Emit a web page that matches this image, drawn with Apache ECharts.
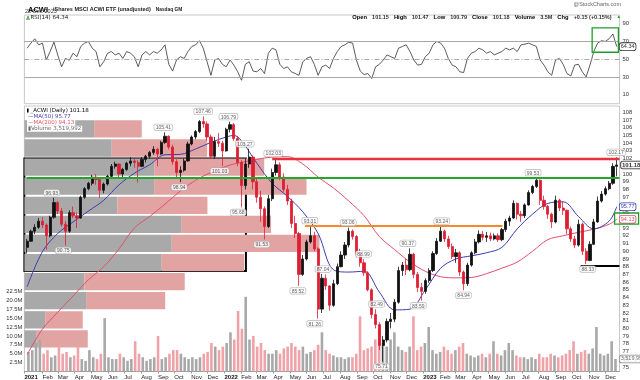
<!DOCTYPE html>
<html><head><meta charset="utf-8">
<script src="https://cdn.jsdelivr.net/npm/echarts@6/dist/echarts.min.js"></script>
<style>html,body{margin:0;padding:0;background:#fff}#c{width:640px;height:380px}</style>
</head><body><div id="c"></div>
<script>
// ---------- data (weekly summary) ----------
const opens = [90.5,91.3,92.6,93.1,93.9,93.4,92.0,94.4,96.3,95.2, 93.5,92.6,95.0,94.6,94.3,97.0,98.1,98.8,99.6,99.3,
 97.9,98.7,99.7,101.0,101.3,100.0,100.6,101.4,101.7,101.5, 101.0,101.9,102.3,102.8,103.2,102.6,104.1,104.9,103.5,101.6,
 100.2,100.5,101.7,103.9,104.8,105.5,106.8,106.5,104.8,102.3, 104.2,104.0,103.0,105.8,106.4,104.6,101.5,98.5,101.3,102.2,
 99.0,97.0,95.5,93.2,96.8,100.2,101.2,99.6,98.0,96.5, 93.6,92.3,87.0,89.0,91.2,92.0,90.3,82.5,86.5,85.5,
 83.0,85.8,88.0,89.5,90.8,92.6,91.9,89.6,88.5,87.2, 85.0,81.8,80.5,77.8,78.5,80.9,81.2,83.4,87.5,88.2,
 87.6,89.6,87.0,85.3,84.8,86.2,87.5,89.7,91.3,92.6, 91.6,90.6,89.3,89.8,87.3,85.8,88.2,89.8,91.2,92.2,
 91.8,92.0,91.6,92.0,91.5,92.8,93.9,94.3,96.2,94.8, 94.6,96.0,97.6,98.4,99.2,96.6,95.8,94.8,93.8,96.6,
 95.6,95.3,92.9,91.6,90.8,93.5,90.0,88.8,90.9,93.8, 96.5,97.4,98.1,98.8,101.0];
const highs = [91.6,92.8,93.5,94.3,94.4,93.6,94.6,96.93,96.5,95.6, 93.9,95.3,95.8,95.0,97.2,98.3,99.0,99.9,100.0,99.6,
 98.9,99.9,101.3,101.6,101.4,100.8,101.6,102.2,102.1,101.8, 102.2,102.5,103.0,103.6,103.4,104.3,105.41,105.0,103.8,101.9,
 101.0,102.0,104.2,105.0,105.7,107.0,107.46,106.8,105.1,104.8, 105.3,104.3,106.0,106.79,106.6,104.9,101.8,102.0,103.27,102.4,
 99.6,97.8,95.8,97.3,100.7,102.03,101.5,100.1,98.6,96.8, 94.6,92.5,89.5,91.5,93.31,92.5,90.5,87.04,87.0,85.6,
 86.3,88.4,90.0,91.2,93.06,92.8,92.1,90.3,88.99,87.4, 85.2,82.49,80.8,79.0,81.3,82.0,83.8,88.0,88.6,89.0,
 90.37,89.8,87.3,85.9,86.5,87.8,90.0,91.7,93.24,92.8, 92.0,91.0,90.3,90.0,87.5,88.5,90.0,91.6,92.7,92.6,
 92.5,92.4,92.3,92.3,93.0,94.2,94.6,96.6,96.3,95.2, 96.2,97.9,98.6,99.53,99.3,97.2,96.0,95.0,97.2,96.8,
 96.4,95.4,93.2,92.0,94.1,93.7,90.4,91.3,94.2,97.1, 97.8,98.4,99.1,101.4,102.17];
const lows = [89.7,91.2,92.2,92.9,93.0,90.2,91.8,94.2,94.8,93.2, 90.75,92.4,94.3,93.0,94.2,96.8,97.9,98.5,98.6,96.9,
 97.5,98.5,99.6,100.7,99.6,99.4,100.4,101.0,100.8,98.9, 100.9,101.5,102.0,102.5,101.0,102.5,103.9,103.2,101.2,99.5,
 98.94,100.3,101.6,103.7,104.5,105.3,106.0,104.3,102.0,102.0, 103.5,101.03,102.9,105.4,104.3,101.0,95.68,98.0,100.8,98.0,
 96.3,93.8,91.53,93.0,96.5,99.8,99.2,97.7,96.0,93.0, 91.7,85.52,86.8,88.8,91.0,90.0,81.26,82.0,85.0,82.3,
 82.8,85.6,87.9,89.0,90.5,91.5,89.2,88.0,86.8,84.8, 81.3,80.0,77.2,75.71,78.2,80.0,80.8,83.2,86.8,86.9,
 87.4,86.5,84.7,83.59,84.5,85.9,87.3,89.5,91.2,91.2, 90.3,89.0,88.5,86.8,84.94,85.5,88.0,89.6,91.0,91.4,
 91.2,91.3,91.4,91.2,91.3,92.5,93.3,94.2,94.1,93.8, 94.3,95.9,97.4,98.2,96.0,95.4,94.2,93.0,93.6,95.2,
 94.7,92.2,91.2,90.4,90.6,89.5,88.33,88.7,90.8,93.7, 96.3,97.2,97.9,98.6,99.7];
const closes = [91.3,92.6,93.1,93.9,93.4,92.0,94.4,96.3,95.2,93.5, 92.6,95.0,94.6,94.3,97.0,98.1,98.8,99.6,99.3,97.9,
 98.7,99.7,101.0,101.3,100.0,100.6,101.4,101.7,101.5,101.0, 101.9,102.3,102.8,103.2,102.6,104.1,104.9,103.5,101.6,100.2,
 100.5,101.7,103.9,104.8,105.5,106.8,106.5,104.8,102.3,104.2, 104.0,103.0,105.8,106.4,104.6,101.5,98.5,101.3,102.2,99.0,
 97.0,95.5,93.2,96.8,100.2,101.2,99.6,98.0,96.5,93.6, 92.3,87.0,89.0,91.2,92.0,90.3,82.5,86.5,85.5,83.0,
 85.8,88.0,89.5,90.8,92.6,91.9,89.6,88.5,87.2,85.0, 81.8,80.5,77.8,78.5,80.9,81.2,83.4,87.5,88.2,87.6,
 89.6,87.0,85.3,84.8,86.2,87.5,89.7,91.3,92.6,91.6, 90.6,89.3,89.8,87.3,85.8,88.2,89.8,91.2,92.2,91.8,
 92.0,91.6,92.0,91.5,92.8,93.9,94.3,96.2,94.8,94.6, 96.0,97.6,98.4,99.2,96.6,95.8,94.8,93.8,96.6,95.6,
 95.3,92.9,91.6,90.8,93.5,90.0,88.8,90.9,93.8,96.5, 97.4,98.1,98.8,101.0,101.18];
const volumeM = [5.5,6,8,9,5,6,4,4.5,7,5, 5.5,4,4.5,7,3.5,3,6,4,3.5,5, 15,4,3.5,3.5,5,4,3,3.5,8.5,5,
 4,3,3.5,4,10,3.5,4,5,6,6, 5,4,3.5,4,3.5,4,5,5.5,8,7, 6,7,8,11,9,17,12,21,9,10,
 7,8,6,5,5,6,5,6.5,7,8, 7,6,7,5,5.5,6,7.5,11,6,5, 4.5,4,4,3.5,4,4,5,15.5,6,6.5,
 7,9,12,8,7,9,11,7,6,5.5, 7,15.5,6,7,8,12.5,6,5,5.5,7, 6,5,6,7,8,5,4.5,4,4.5,5,
 4,5,8.5,5,4.5,6,8,6,4.5,4, 4,3.5,4,3.5,5,4,4,5,4.5,4, 4.5,5,6,8.5,5,5.5,6,5,6.5,12.5,
 5,4.5,5,8.5,3.52];
const rsi14 = [62.6,68.3,73.2,66.4,68.3,49.2,58.8,69.4,55,41.6, 51,49,57,53,64.5,68.3,70.2,62.6,58.8,41.6,
 47.3,56.9,58.8,55,56.9,51,58.8,57,53,41.6, 55,58.8,55,58.8,57,60.7,66.4,44.4,36.8,49.2,
 53,51,58.8,64.5,66.4,71,62.6,47.3,32,49.2, 51,44.4,41.6,49.2,43.5,36,26.4,44.4,47.3,36.8,
 36,39.7,34,56.9,62.6,60.7,44.4,39.7,41.6,36, 34,32,47.3,51,53,44.4,32,41.6,43.5,39.7,
 51,58.8,64.5,66.4,69.4,68.3,49.2,36.8,32.9,34, 28.3,41.6,44.4,49.2,55,53,51,62.6,64.5,66.4,
 58.8,49.2,43.5,44.4,53,56.9,66.4,70.2,68.3,62.6, 51,43.5,41.6,36,35.1,51,56.9,58.8,62.6,60.7,
 56.9,58.8,55,56.9,58.8,62.6,60.7,62.6,58.8,66.4, 67.1,68.3,66.4,64.5,49.2,43.5,36,32,49.2,51,
 44.4,34,31.3,43.5,44.4,36,30.2,43.5,58.8,68.3, 71,70.2,73.2,78.6,64.34];
const maWeeks = [0,4,8,12,16,20,24,28,32,36,40,44,48,52,54,56,60,64,68,72,76,80,84,88,92,96,100,104,108,112,116,120,124,128,132,136,140,144,148,152,154];
const ma50 = [85.4,89.95,92.3,93.8,95.2,96.6,98.6,100.1,101.2,102.5,102.55,103.25,104.1,104.8,105.0,104.3,101.4,98.8,97.1,95.1,92.3,87.6,87.3,87.4,84.7,82.4,82.5,85.0,87.8,89.0,89.4,89.8,90.5,92.9,94.8,96.2,96.4,94.5,92.9,93.9,95.77];
const ma200 = [76.6,79.9,82.1,84.2,86.3,88.0,90.3,93.0,94.5,96.1,97.8,99.2,100.2,101.0,101.3,101.5,101.9,102.2,102.25,101.3,99.6,98.2,96.5,94.6,91.9,90.2,88.6,87.4,86.7,86.55,86.6,87.1,87.8,88.6,90.0,91.5,92.0,92.45,92.85,93.5,94.13];
// volume-by-price bands (price range, up volume, down volume; millions)
const vbpLow  = [104.62,102.14,99.67,97.19,94.72,92.25,89.77,87.30,84.82,82.35,79.87,77.40];
const vbpHigh = [107.09,104.62,102.14,99.67,97.19,94.72,92.25,89.77,87.30,84.82,82.35,79.87];
const vbpUp   = [95.5,119.6,177.7,177.7,127.4,215.5,201.8,188.1,82.2,85.4,28.4,16.9];
const vbpDown = [65.2,130.7,150.7,208.7,123.3,122.3,202.3,112.8,137.4,107.4,51.5,69.9];
// annotated pivots
const pivotDates = ['2021-02-20','2021-03-13','2021-09-12','2021-10-11','2021-11-24','2021-12-24','2022-01-09','2022-01-27','2022-02-08','2022-03-11','2022-04-01','2022-05-16','2022-06-07','2022-06-16','2022-07-01','2022-08-16','2022-09-13','2022-10-07','2022-10-16','2022-12-03','2022-12-22','2023-02-03','2023-03-15','2023-07-20','2023-10-28','2023-12-19'];
const pivotValues = [96.93,90.75,105.41,98.94,107.46,101.03,106.79,95.68,103.27,91.53,102.03,85.52,93.31,81.26,87.04,93.06,88.99,82.49,75.71,90.37,83.59,93.24,84.94,99.53,88.33,102.17];
const pivotSide = ['top','bottom','top','bottom','top','bottom','top','bottom','top','bottom','top','bottom','top','bottom','top','top','top','top','bottom','top','bottom','top','bottom','top','bottom','top'];
const monthNames = ['Jan','Feb','Mar','Apr','May','Jun','Jul','Aug','Sep','Oct','Nov','Dec'];
const lastClose = 101.18, lastVolume = 3519992, lastRSI = 64.34;

// ---------- helpers ----------
function day(s){ const p = s.split('-').map(Number); return new Date(p[0], p[1]-1, p[2]).getTime(); }
function week(i){ return new Date(2021, 0, 6 + 7*i).getTime(); }
const X_MIN = day('2021-01-01'), X_MAX = day('2023-12-25');
const FONT = 'Liberation Sans, Arial, sans-serif';
const LFONT = 'DejaVu Sans, sans-serif';
const GL = 24.4, GR = 20.5;
const DAY = 86400000;

const chart = echarts.init(document.getElementById('c'), null, {renderer:'canvas', width:640, height:380});

function vbpRender(params, api){
  const lo = api.value(0), hi = api.value(1), up = api.value(2), dn = api.value(3);
  const a = api.coord([0, hi]), b = api.coord([up, lo]), c = api.coord([up + dn, lo]);
  const y0 = a[1] + 0.9, y1 = b[1] - 0.9;
  return {type:'group', children:[
    {type:'rect', shape:{x:a[0], y:y0, width:b[0]-a[0], height:y1-y0}, style:{fill:'#a9a9a9'}},
    {type:'rect', shape:{x:b[0], y:y0, width:c[0]-b[0], height:y1-y0}, style:{fill:'#e2a3a3'}}
  ]};
}

const tagLabel = (color, bold) => ({show:true, fontSize:5.5, fontFamily:FONT, color:color, fontWeight: bold?'bold':'normal',
  backgroundColor:'#fff', borderColor:color, borderWidth:0.8, borderRadius:2, padding:[1,1,0,1]});

const series = [
 {type:'custom', name:'vbp', xAxisIndex:1, yAxisIndex:0, z:1, silent:true, clip:false,
  renderItem:vbpRender, encode:{x:[2,3], y:[0,1]},
  data: vbpLow.map((lo,i)=>[lo, vbpHigh[i], vbpUp[i], vbpDown[i]])},
 {type:'bar', name:'volume', xAxisIndex:2, yAxisIndex:1, z:2, barWidth:2.6, silent:true,
  data: volumeM.map((v,i)=>({value:[week(i), v], itemStyle:{color: closes[i] >= opens[i] ? '#a8a8a8' : '#efa2a8'}}))},
 {type:'line', name:'MA(200)', xAxisIndex:0, yAxisIndex:0, z:3, smooth:0.35, symbol:'none', silent:true,
  lineStyle:{color:'#e0506a', width:1}, data: maWeeks.map((w,i)=>[week(w), ma200[i]]),
  endLabel: Object.assign(tagLabel('#e0506a'), {distance:3, formatter:p=>p.value[1].toFixed(2)})},
 {type:'line', name:'MA(50)', xAxisIndex:0, yAxisIndex:0, z:3, smooth:0.35, symbol:'none', silent:true,
  lineStyle:{color:'#3c3cb4', width:1}, data: maWeeks.map((w,i)=>[week(w), ma50[i]]),
  endLabel: Object.assign(tagLabel('#3c3cb4'), {distance:3, formatter:p=>p.value[1].toFixed(2)})},
 {type:'candlestick', name:'ACWI', xAxisIndex:0, yAxisIndex:0, z:4, barWidth:2.7, barMaxWidth:2.7, silent:true,
  encode:{x:0, y:[1,2,3,4]},
  itemStyle:{color:'#111', color0:'#dc1f33', borderColor:'#111', borderColor0:'#dc1f33', borderWidth:0.8},
  data: closes.map((c,i)=>[week(i), opens[i], c, lows[i], highs[i]]),
  markLine:{silent:true, symbol:['none','none'], label:{show:false}, animation:false,
    data:[
     [{coord:[day('2022-03-30'), 102.03], lineStyle:{color:'#e8323c', width:2.4, type:'solid'}}, {coord:[X_MAX, 102.03]}],
     [{coord:[day('2021-01-05'), 99.53], lineStyle:{color:'#1fa82a', width:1.8, type:'solid'}}, {coord:[X_MAX, 99.53]}],
     [{coord:[day('2022-05-29'), 93.31], lineStyle:{color:'#f5892c', width:2, type:'solid'}}, {coord:[day('2023-05-25'), 93.31]}],
     [{coord:[day('2023-10-15'), 88.15], lineStyle:{color:'#000', width:2, type:'solid'}}, {coord:[X_MAX, 88.15]}]
    ]},
  markArea:{silent:true, data:[[{coord:[X_MIN, 102.03], itemStyle:{color:'rgba(0,0,0,0)', borderColor:'#000', borderWidth:2}}, {coord:[day('2022-02-10'), 87.45]}]]}
 },
 {type:'scatter', name:'pivots', xAxisIndex:0, yAxisIndex:0, z:6, symbolSize:0, silent:true,
  data: pivotDates.map((d,i)=>({value:[day(d), pivotValues[i]], label:{position:pivotSide[i]}})),
  label:{show:true, formatter:p=>p.value[1].toFixed(2), fontSize:5, fontFamily:FONT, color:'#333', distance:2,
    backgroundColor:'#fff', borderColor:'#aaa', borderWidth:0.6, borderRadius:2, padding:[1,1.5,0,1.5]}},
 {type:'scatter', name:'closeTag', xAxisIndex:0, yAxisIndex:0, z:7, symbolSize:0, silent:true,
  data:[[X_MAX, lastClose]],
  label:Object.assign(tagLabel('#000', true), {position:'right', distance:1.5, fontSize:6, formatter:p=>p.value[1].toFixed(2)})},
 {type:'line', name:'RSI', xAxisIndex:3, yAxisIndex:2, z:3, symbol:'none', silent:true,
  lineStyle:{width:0.8, color:'#333'}, data: rsi14.map((v,i)=>[week(i), v]),
  endLabel: Object.assign(tagLabel('#333'), {distance:3, formatter:()=>lastRSI.toFixed(2)}),
  markLine:{silent:true, symbol:['none','none'], label:{show:false}, animation:false,
    data:[
      {yAxis:70, lineStyle:{color:'#a8a8a8', width:1, type:'solid'}},
      {yAxis:30, lineStyle:{color:'#a8a8a8', width:1, type:'solid'}},
      {yAxis:50, lineStyle:{color:'#a8a8a8', width:1, type:[5,2,1,2]}}
    ]}},
 {type:'scatter', name:'volTag', xAxisIndex:2, yAxisIndex:1, z:7, symbolSize:0, silent:true,
  data:[[X_MAX, lastVolume/1e6]],
  label:Object.assign(tagLabel('#777'), {position:'right', distance:1.5, color:'#444', formatter:()=>lastVolume.toLocaleString('en-US')})}
];

function timeLabel(v){
  if (v <= X_MIN + 3*DAY) return '{y|2021}';
  const d = new Date(v + 2*DAY); const m = d.getMonth();
  return m === 0 ? '{y|' + d.getFullYear() + '}' : monthNames[m];
}

const option = {
 animation:false,
 backgroundColor:'#fff',
 textStyle:{fontFamily:FONT},
 title:[
  {text:'{a|ACWI} {b|iShares MSCI ACWI ETF (unadjusted)} {c|Nasdaq GM}', left:28, top:0.5, padding:0,
   textStyle:{rich:{a:{fontSize:7.5, lineHeight:8, fontWeight:'bold', color:'#000', fontFamily:FONT}, b:{fontSize:5.5, lineHeight:8, color:'#222', fontFamily:FONT}, c:{fontSize:4.8, lineHeight:8, color:'#222', fontFamily:FONT}}}},
  {text:'22-Dec-2023', left:25, top:8.6, padding:0, textStyle:{fontSize:5.5, lineHeight:6, color:'#333', fontWeight:'normal', fontFamily:FONT}},
  {text:'@StockCharts.com', right:19, top:1.5, padding:0, textStyle:{fontSize:5.5, lineHeight:6, color:'#666', fontWeight:'normal', fontFamily:FONT}},
  {text:'{k|Open} {v|101.15} {k|High} {v|101.47} {k|Low} {v|100.79} {k|Close} {v|101.18} {k|Volume} {v|3.5M} {k|Chg} {v|+0.15 (+0.15%)} {g|▲}',
   right:19, top:8.2, padding:0,
   textStyle:{rich:{k:{fontSize:5.8, lineHeight:7, fontWeight:'bold', color:'#000', fontFamily:FONT}, v:{fontSize:5.5, lineHeight:7, color:'#333', fontFamily:FONT}, g:{fontSize:4.5, lineHeight:7, color:'#1a9a2a'}}}}
 ],
 grid:[
  {left:GL, right:GR, top:112.3, height:254.7, show:false, outerBoundsMode:'none'},
  {left:GL, right:GR, top:106, height:265.5, show:true, borderColor:'#c8c8c8', borderWidth:1, backgroundColor:'rgba(0,0,0,0)', outerBoundsMode:'none'},
  {left:GL, right:GR, top:15, height:88.7, show:true, borderColor:'#c8c8c8', borderWidth:1, backgroundColor:'rgba(0,0,0,0)', outerBoundsMode:'none'}
 ],
 xAxis:[
  {type:'time', gridIndex:0, min:X_MIN, max:X_MAX, show:false},
  {type:'value', gridIndex:0, min:0, max:815, show:false},
  {type:'time', gridIndex:1, min:X_MIN, max:X_MAX, splitNumber:36, minInterval:28*DAY, maxInterval:31*DAY,
   axisLine:{show:true, lineStyle:{color:'#9a9a9a', width:1}},
   axisTick:{show:true, length:2, lineStyle:{color:'#9a9a9a'}},
   splitLine:{show:false}, minorTick:{show:false},
   axisLabel:{show:true, interval:0, hideOverlap:false, showMinLabel:true, showMaxLabel:false, align:'left', margin:2.5,
     fontSize:6, color:'#222', fontFamily:FONT, formatter:timeLabel,
     rich:{y:{fontSize:6, fontWeight:'bold', color:'#111', fontFamily:FONT}}}},
  {type:'time', gridIndex:2, min:X_MIN, max:X_MAX, show:false}
 ],
 yAxis:[
  {type:'value', gridIndex:0, position:'right', min:75, max:108, interval:1,
   axisLine:{show:false}, axisTick:{show:false}, splitLine:{show:false},
   axisLabel:{fontSize:5.8, color:'#333', margin:3, fontFamily:FONT}},
  {type:'value', gridIndex:1, position:'left', min:0, max:74.6, interval:2.5,
   axisLine:{show:false}, axisTick:{show:false}, splitLine:{show:false},
   axisLabel:{fontSize:5.8, color:'#333', margin:2, fontFamily:FONT, showMaxLabel:false,
     formatter:function(v){ return (v > 0.1 && v < 23) ? v.toFixed(1) + 'M' : ''; }}},
  {type:'value', gridIndex:2, position:'right', min:0, max:100, interval:10,
   axisLine:{show:false}, axisTick:{show:false}, splitLine:{show:false},
   axisLabel:{fontSize:5.8, color:'#333', margin:3, fontFamily:FONT,
     formatter:function(v){ return [10,30,50,70,90].indexOf(Math.round(v)) >= 0 ? String(Math.round(v)) : ''; }}}
 ],
 series: series
};
chart.setOption(option);

// annotations positioned through the chart's own coordinate conversion
const r1 = chart.convertToPixel({xAxisIndex:3, yAxisIndex:2}, [day('2023-11-05'), 85.4]);
const r2 = chart.convertToPixel({xAxisIndex:3, yAxisIndex:2}, [day('2023-12-23'), 58]);
const g1 = chart.convertToPixel({xAxisIndex:0, yAxisIndex:0}, [day('2023-12-16'), 94.95]);
const g2 = chart.convertToPixel({xAxisIndex:0, yAxisIndex:0}, [day('2023-12-16'), 93.5]);

function txt(x, y, s, fill, extra){
  return Object.assign({type:'text', x:x, y:y, z:50, silent:true,
    style:Object.assign({text:s, font:'5.5px ' + LFONT, fill:fill, verticalAlign:'middle', textVerticalAlign:'middle'}, extra || {})});
}
chart.setOption({graphic:[
  {type:'rect', z:60, silent:true, shape:{x:r1[0], y:r1[1], width:r2[0]-r1[0], height:r2[1]-r1[1]}, style:{fill:'none', stroke:'#1e9e28', lineWidth:1.3}},
  {type:'rect', z:60, silent:true, shape:{x:g1[0], y:g1[1], width:24, height:g2[1]-g1[1]}, style:{fill:'none', stroke:'#1e9e28', lineWidth:1.3}},
  {type:'polyline', z:50, silent:true, shape:{points:[[26.5,20],[28,16],[29.5,20]]}, style:{stroke:'#2a7a2a', fill:'#8c8', lineWidth:0.6}},
  txt(30.5, 18, 'RSI(14) 64.34', '#222'),
  {type:'rect', z:50, silent:true, shape:{x:27, y:108.6, width:1.6, height:4}, style:{fill:'#000'}},
  txt(29.5, 110.8, '_ACWI (Daily) 101.18', '#000', {backgroundColor:'#fff', padding:[0,1]}),
  txt(27, 116.8, '\u2014MA(50) 95.77', '#3c3cb4', {backgroundColor:'#fff', padding:[0,1]}),
  txt(27, 122.8, '\u2014MA(200) 94.13', '#e0506a', {backgroundColor:'#fff', padding:[0,1]}),
  txt(27, 128.8, '\u25AEVolume 3,519,992', '#666', {backgroundColor:'#fff', padding:[0,1]})
]});
</script>
</body></html>
